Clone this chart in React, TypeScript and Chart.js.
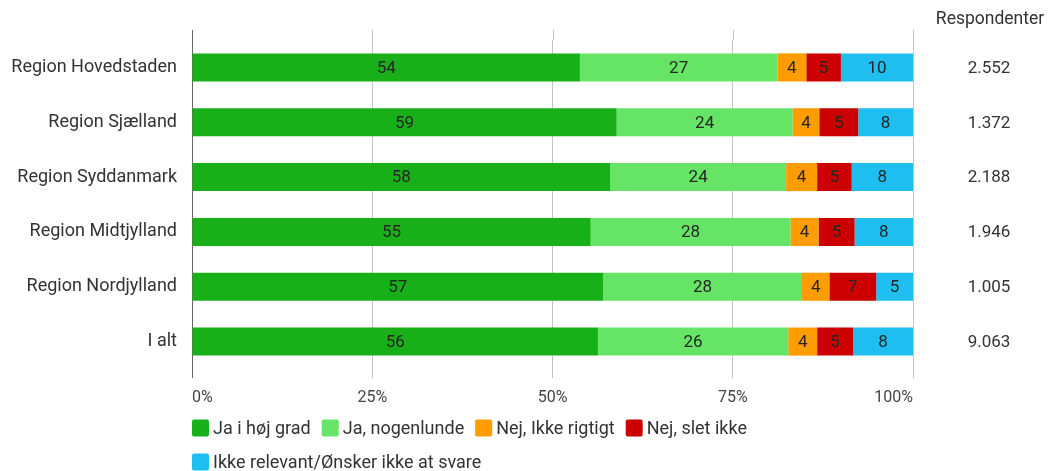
import React, { useEffect, useRef } from "react";
import { Chart, registerables } from "chart.js";

Chart.register(...registerables);

const categories = [
  "Region Hovedstaden",
  "Region Sjælland",
  "Region Syddanmark",
  "Region Midtjylland",
  "Region Nordjylland",
  "I alt",
];

const seriesNames = [
  "Ja i høj grad",
  "Ja, nogenlunde",
  "Nej, Ikke rigtigt",
  "Nej, slet ikke",
  "Ikke relevant/Ønsker ikke at svare",
];

// underlying shares
const jaHoejGrad = [53.8, 58.9, 58.0, 55.3, 57.0, 56.3];
const jaNogenlunde = [27.4, 24.4, 24.4, 27.7, 27.6, 26.4];
const nejIkkeRigtigt = [4.0, 3.7, 4.3, 3.9, 3.8, 4.0];
const nejSletIkke = [4.8, 5.4, 4.8, 5.0, 6.5, 5.0];
const ikkeRelevant = [10.0, 7.6, 8.5, 8.1, 5.1, 8.3];

// labels as printed
const lblJaHoejGrad = [54, 59, 58, 55, 57, 56];
const lblJaNogenlunde = [27, 24, 24, 28, 28, 26];
const lblNejIkkeRigtigt = [4, 4, 4, 4, 4, 4];
const lblNejSletIkke = [5, 5, 5, 5, 7, 5];
const lblIkkeRelevant = [10, 8, 8, 8, 5, 8];

const respondenter = ["2.552", "1.372", "2.188", "1.946", "1.005", "9.063"];
const respondenterTitle = "Respondenter";

const xTicks = [0, 25, 50, 75, 100];

const colors = ["#18b018", "#66e466", "#ff9c00", "#cc0000", "#1ebef0"];

const FONT = "Roboto, 'Noto Sans', sans-serif";

export default function App() {
  const ref = useRef<HTMLCanvasElement | null>(null);

  useEffect(() => {
    if (!ref.current) return;
    const values = [jaHoejGrad, jaNogenlunde, nejIkkeRigtigt, nejSletIkke, ikkeRelevant];
    const labels = [lblJaHoejGrad, lblJaNogenlunde, lblNejIkkeRigtigt, lblNejSletIkke, lblIkkeRelevant];

    const extrasPlugin = {
      id: "extras",
      beforeDatasetsDraw(chart: any) {
        const { ctx, chartArea, scales } = chart;
        ctx.save();
        ctx.lineWidth = 1;
        xTicks.forEach((v) => {
          const x = Math.round(scales.x.getPixelForValue(v)) + 0.5;
          ctx.strokeStyle = v === 0 ? "#666666" : "#c4c4c4";
          ctx.beginPath();
          ctx.moveTo(x, chartArea.top - 10);
          ctx.lineTo(x, chartArea.top);
          ctx.stroke();
        });
        ctx.restore();
      },
      afterDatasetsDraw(chart: any) {
        const { ctx, chartArea } = chart;
        ctx.save();
        ctx.font = `17px ${FONT}`;
        ctx.textAlign = "center";
        ctx.textBaseline = "middle";
        ctx.fillStyle = "#262626";
        chart.data.datasets.forEach((ds: any, di: number) => {
          const meta = chart.getDatasetMeta(di);
          meta.data.forEach((bar: any, i: number) => {
            const cx = (bar.x + bar.base) / 2;
            ctx.fillText(String(labels[di][i]), cx, bar.y + 1);
          });
        });
        // Respondenter column
        const meta0 = chart.getDatasetMeta(0);
        ctx.fillStyle = "#333333";
        ctx.font = `17.5px ${FONT}`;
        ctx.fillText(respondenterTitle, 990, 20);
        ctx.font = `17px ${FONT}`;
        meta0.data.forEach((bar: any, i: number) => {
          ctx.fillText(respondenter[i], 989, bar.y + 1);
        });
        // Legend
        ctx.font = `18px ${FONT}`;
        ctx.textAlign = "left";
        const startX = chartArea.left;
        let x = startX;
        let y = 428;
        const maxX = chartArea.right;
        chart.data.datasets.forEach((ds: any) => {
          const w = 17 + 4 + ctx.measureText(ds.label).width;
          if (x + w > maxX && x > startX) {
            x = startX;
            y += 34;
          }
          ctx.fillStyle = ds.backgroundColor;
          ctx.beginPath();
          (ctx as any).roundRect(x, y - 8.5, 17, 17, 2);
          ctx.fill();
          ctx.fillStyle = "#333333";
          ctx.fillText(ds.label, x + 21, y + 1);
          x += w + 11;
        });
        ctx.restore();
      },
    };

    const chart = new Chart(ref.current, {
      type: "bar",
      data: {
        labels: categories,
        datasets: values.map((data, i) => ({
          label: seriesNames[i],
          data,
          backgroundColor: colors[i],
          borderWidth: 0,
          categoryPercentage: 0.8,
          barPercentage: 0.64,
        })),
      },
      options: {
        indexAxis: "y",
        animation: false,
        responsive: true,
        maintainAspectRatio: false,
        layout: { padding: { left: 0, right: 146, top: 40, bottom: 62 } },
        plugins: {
          legend: { display: false },
          tooltip: { enabled: false },
        },
        scales: {
          x: {
            stacked: true,
            min: 0,
            max: 100,
            afterBuildTicks(scale: any) {
              scale.ticks = xTicks.map((v) => ({ value: v }));
            },
            afterFit(scale: any) {
              scale.height = 40;
            },
            grid: {
              color: (c: any) => (c.tick && c.tick.value === 0 ? "#666666" : "#c4c4c4"),
              lineWidth: 1,
              drawTicks: true,
              tickLength: 9,
            },
            border: { display: false },
            ticks: {
              callback: (v: any) => `${v}%`,
              color: "#444444",
              font: { family: FONT, size: 16 },
              padding: 10,
              maxRotation: 0,
              align: "inner",
            },
          },
          y: {
            stacked: true,
            afterFit(scale: any) {
              scale.width = 192;
            },
            grid: { display: false, drawTicks: false },
            border: { display: false },
            ticks: {
              color: "#333333",
              font: { family: FONT, size: 18 },
              padding: 15,
            },
          },
        },
      },
      plugins: [extrasPlugin],
    });
    return () => chart.destroy();
  }, []);

  return (
    <div style={{ position: "absolute", left: 0, top: 0, width: 1059, height: 471, background: "#fff" }}>
      <canvas ref={ref} />
    </div>
  );
}
